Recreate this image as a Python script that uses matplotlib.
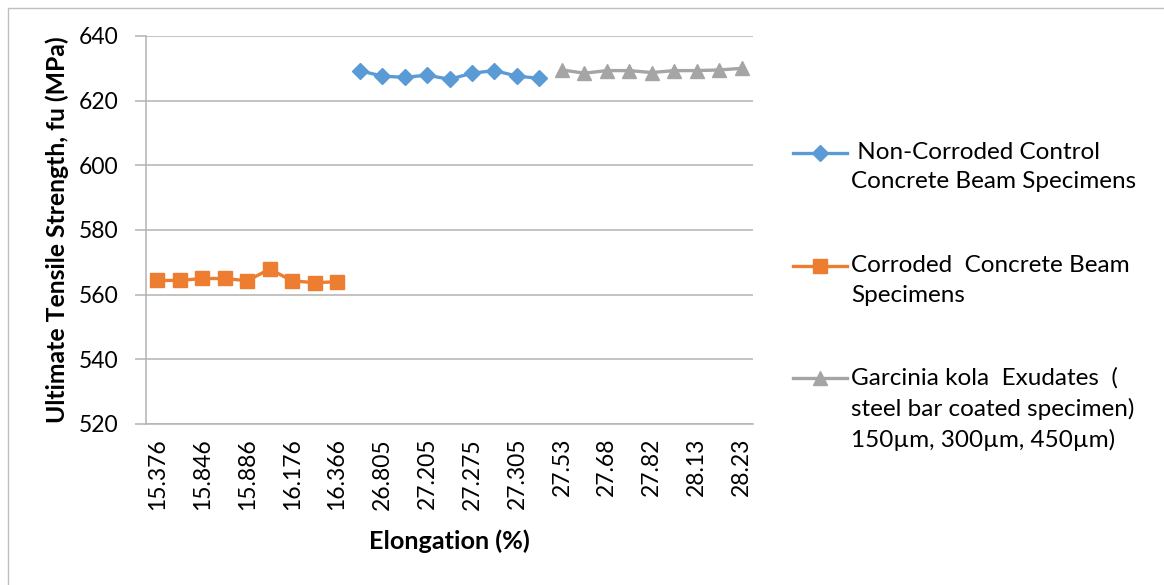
import matplotlib.pyplot as plt
from matplotlib.lines import Line2D
from matplotlib.patches import Rectangle

plt.rcParams["font.family"] = ["Lato", "DejaVu Sans"]

# every other category label is shown on the axis
TICK_LABELS = ["15.376", "15.846", "15.886", "16.176", "16.366", "26.805", "27.205",
               "27.275", "27.305", "27.53", "27.68", "27.82", "28.13", "28.23"]

corroded = [564.4, 564.4, 565.0, 565.0, 564.3, 567.9, 564.3, 563.7, 564.0]
non_corroded = [629.3, 627.6, 627.2, 627.9, 626.6, 628.5, 629.3, 627.6, 626.9]
coated = [629.5, 628.5, 629.3, 629.3, 628.7, 629.3, 629.3, 629.5, 630.0]

LABELS = [" Non-Corroded Control\nConcrete Beam Specimens",
          "Corroded  Concrete Beam\nSpecimens",
          "Garcinia kola  Exudates  (\nsteel bar coated specimen)\n150\u00b5m, 300\u00b5m, 450\u00b5m)"]

BLUE = "#5B9BD5"
ORANGE = "#ED7D31"
GRAY = "#A5A5A5"
GRID = "#b3b3b3"

W, H = 1164, 585
fig = plt.figure(figsize=(W / 100, H / 100), dpi=100)
ax = fig.add_axes([146 / W, 1 - 424 / H, (753 - 146) / W, (424 - 36) / H])

n = len(corroded)
x_orange = list(range(0, n))
x_blue = list(range(n, 2 * n))
x_gray = list(range(2 * n, 3 * n))

ax.plot(x_blue, non_corroded, color=BLUE, lw=2.4, marker="D", ms=8.5, zorder=3)
ax.plot(x_orange, corroded, color=ORANGE, lw=2.4, marker="s", ms=9.5, zorder=3)
ax.plot(x_gray, coated, color=GRAY, lw=2.4, marker="^", ms=10.5, zorder=3)

ax.set_xlim(-0.5, 3 * n - 0.5)
ax.set_ylim(520, 640)
ax.set_yticks(range(520, 641, 20))
ax.grid(axis="y", color=GRID, lw=1.1)
ax.set_axisbelow(True)

ax.set_xticks(range(0, 3 * n, 2))
ax.set_xticklabels(TICK_LABELS, rotation=90)
ax.tick_params(axis="x", length=0, pad=10, labelsize=16.5)
ax.tick_params(axis="y", length=8, color=GRID, width=1.1, pad=12, labelsize=16.5)

for side in ["top", "right"]:
    ax.spines[side].set_visible(False)
for side in ["left", "bottom"]:
    ax.spines[side].set_color(GRID)
    ax.spines[side].set_linewidth(1.1)

ax.set_ylabel("Ultimate Tensile Strength, fu (MPa)", fontsize=17.8,
              fontweight="bold", labelpad=7)
ax.set_xlabel("Elongation (%)", fontsize=18.2, fontweight="bold", labelpad=14)

# legend drawn by hand so each key sits on the first line of its label
legend_y = [153, 266, 378]
styles = [(BLUE, "D", 8.5), (ORANGE, "s", 9.5), (GRAY, "^", 10.5)]
for (c, m, ms), y, lab in zip(styles, legend_y, LABELS):
    yf = 1 - y / H
    fig.add_artist(Line2D([793 / W, 847 / W], [yf, yf], color=c, lw=2.4,
                          transform=fig.transFigure))
    fig.add_artist(Line2D([820 / W], [yf], color=c, marker=m, ms=ms,
                          transform=fig.transFigure))
    fig.text(851 / W, 1 - (y - 11) / H, lab, fontsize=17.5, va="top", ha="left",
             linespacing=1.5, transform=fig.transFigure)

# chart border
fig.add_artist(Rectangle((8 / W, -0.1), 1.2, 1 - 8 / H + 0.1, fill=False,
                         edgecolor="#bfbfbf", lw=1, transform=fig.transFigure))

fig.savefig("out.png", dpi=100)
